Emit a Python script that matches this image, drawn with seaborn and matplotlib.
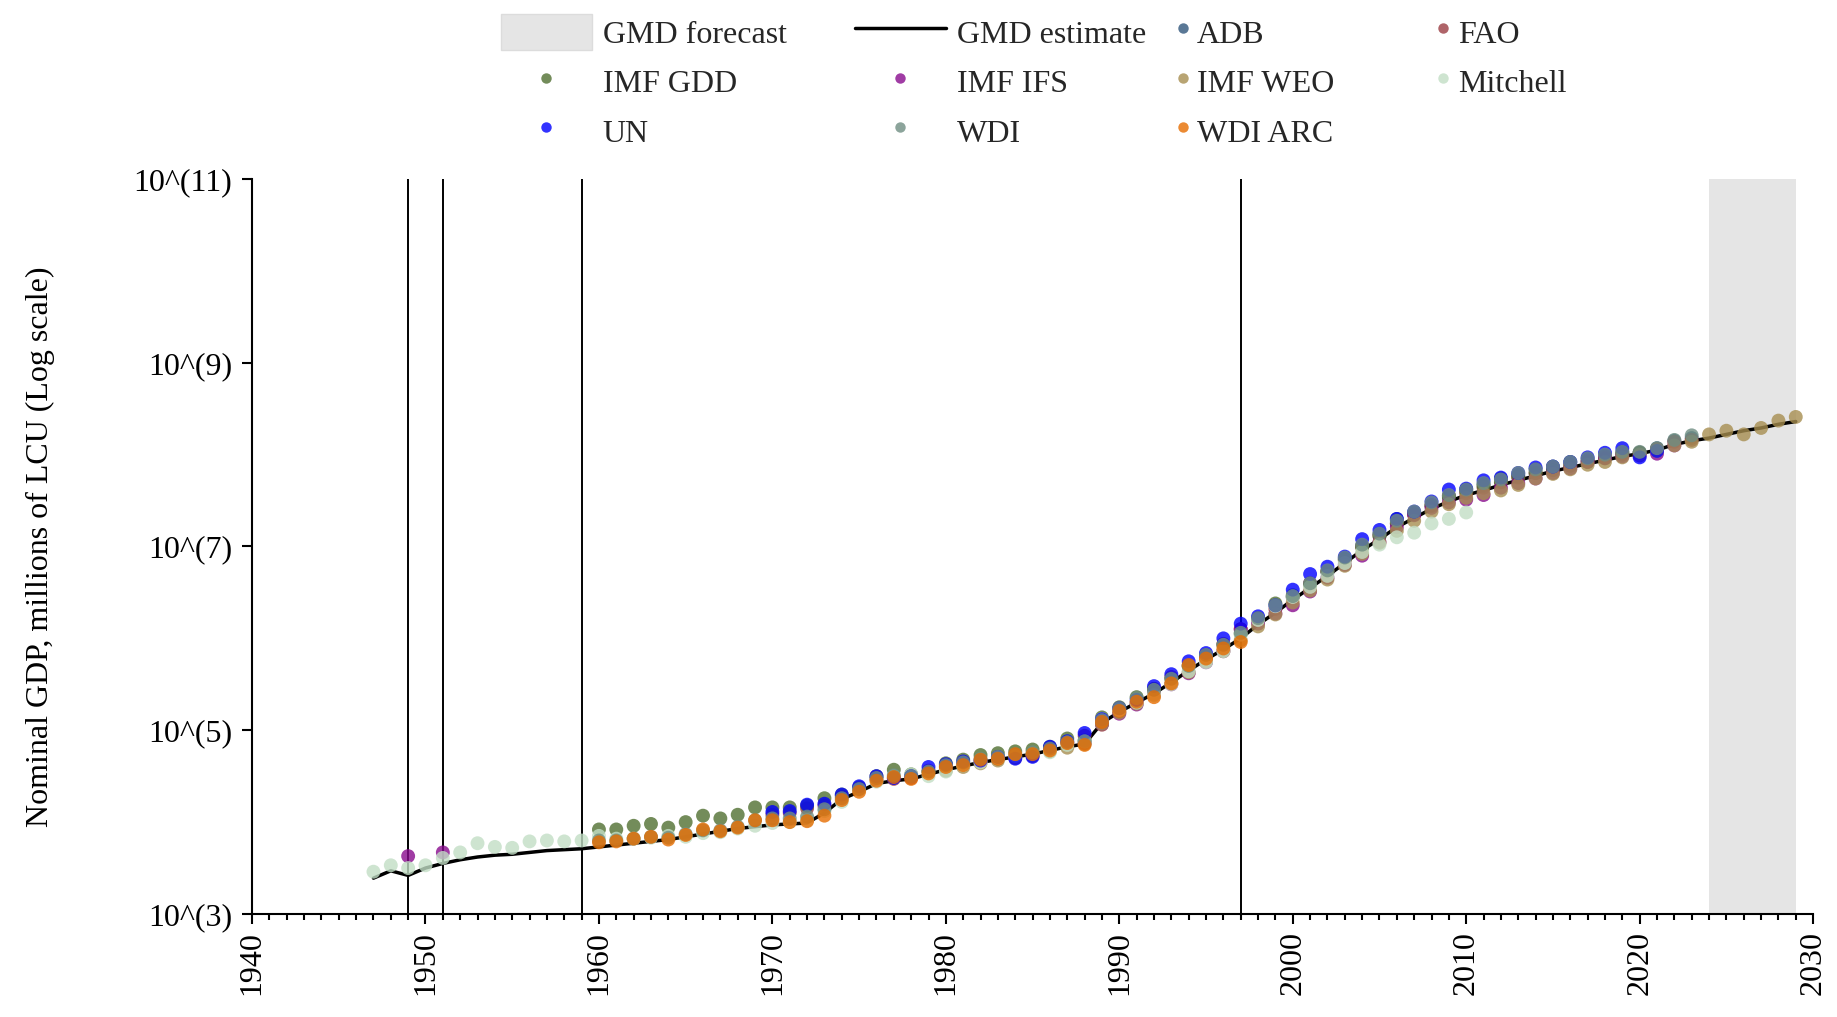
import numpy as np
import pandas as pd
import matplotlib
matplotlib.use("Agg")
import matplotlib.pyplot as plt
import seaborn as sns
from matplotlib.patches import Patch
from matplotlib.lines import Line2D
from matplotlib.ticker import FixedLocator, MultipleLocator, NullLocator

sns.set_style("ticks")
plt.rcParams['font.family'] = ['Liberation Serif', 'DejaVu Serif']

# ---------------- data (log10 of nominal GDP, millions of LCU) ----------------
gmd_years = list(range(1947, 2030))
gmd_log = [3.39, 3.47, 3.42, 3.50, 3.55, 3.59, 3.62, 3.64, 3.65, 3.67, 3.69, 3.70, 3.71,
           3.73, 3.75, 3.77, 3.79, 3.81, 3.84, 3.87, 3.90, 3.93, 3.95,
           3.97, 3.98, 3.99, 4.10, 4.25, 4.33, 4.42, 4.45, 4.47, 4.52,
           4.57, 4.61, 4.65, 4.68, 4.71, 4.74, 4.78, 4.82, 4.85, 5.08,
           5.20, 5.30, 5.40, 5.52, 5.65, 5.77, 5.88, 6.00, 6.15, 6.28,
           6.42, 6.55, 6.68, 6.82, 6.96, 7.08, 7.21, 7.31, 7.41, 7.49,
           7.56, 7.61, 7.67, 7.72, 7.77, 7.82, 7.86, 7.90, 7.94, 7.98,
           8.01, 8.05, 8.11, 8.15, 8.18, 8.22, 8.26, 8.29, 8.33, 8.36]

adb_years = list(range(2000, 2024))
adb_log = [6.45, 6.60, 6.72, 6.87, 7.01, 7.14, 7.30, 7.37, 7.45, 7.55,
           7.62, 7.68, 7.74, 7.78, 7.84, 7.87, 7.92, 7.95, 7.99, 8.03,
           8.02, 8.07, 8.15, 8.18]

fao_years = list(range(1970, 2024))
fao_log = [4.08, 4.10, 4.15, 4.18, 4.28, 4.36, 4.47, 4.47, 4.48, 4.56,
           4.60, 4.63, 4.66, 4.69, 4.70, 4.72, 4.80, 4.86, 4.94, 5.06,
           5.20, 5.30, 5.45, 5.58, 5.70, 5.80, 5.94, 6.10, 6.20, 6.32,
           6.45, 6.60, 6.73, 6.85, 7.00, 7.12, 7.25, 7.35, 7.45, 7.55,
           7.58, 7.64, 7.70, 7.75, 7.80, 7.85, 7.88, 7.93, 7.97, 8.01,
           8.02, 8.06, 8.14, 8.16]

gdd_years = list(range(1960, 2021))
gdd_log = [3.92, 3.92, 3.96, 3.98, 3.94, 4.00, 4.07, 4.04, 4.08, 4.16,
           4.16, 4.16, 4.18, 4.26, 4.30, 4.38, 4.50, 4.57, 4.52, 4.55,
           4.64, 4.68, 4.73, 4.75, 4.77, 4.79, 4.82, 4.91, 4.89, 5.14,
           5.25, 5.36, 5.45, 5.56, 5.70, 5.82, 5.93, 6.05, 6.22, 6.38,
           6.47, 6.58, 6.73, 6.86, 6.99, 7.11, 7.25, 7.35, 7.44, 7.53,
           7.60, 7.66, 7.70, 7.76, 7.80, 7.83, 7.88, 7.92, 7.96, 8.00, 8.02]

ifs_years = [1949, 1951] + list(range(1988, 2023))
ifs_log = [3.63, 3.67,
           4.86, 5.07, 5.18, 5.28, 5.39, 5.50, 5.62, 5.74, 5.86,
           6.10, 6.16, 6.27, 6.36, 6.51, 6.66, 6.80, 6.90, 7.05, 7.21,
           7.34, 7.42, 7.48, 7.51, 7.56, 7.64, 7.69, 7.74, 7.80, 7.85,
           7.92, 7.96, 7.98, 7.99, 8.01, 8.10]

weo_years = list(range(1980, 2030))
weo_log = [4.56, 4.60, 4.64, 4.67, 4.70, 4.73, 4.77, 4.81, 4.85, 5.07,
           5.19, 5.29, 5.39, 5.51, 5.63, 5.75, 5.86, 5.98, 6.13, 6.26,
           6.39, 6.52, 6.64, 6.79, 6.92, 7.04, 7.17, 7.28, 7.38, 7.46,
           7.53, 7.58, 7.61, 7.67, 7.74, 7.79, 7.84, 7.89, 7.92, 7.97,
           8.00, 8.04, 8.10, 8.14, 8.22, 8.26, 8.22, 8.29, 8.37, 8.41]

mitchell_years = list(range(1947, 2011))
mitchell_log = [3.46, 3.53, 3.50, 3.53, 3.61, 3.67, 3.77, 3.73, 3.72, 3.79, 3.80, 3.79, 3.80,
                3.85, 3.82, 3.82, 3.83, 3.85, 3.84, 3.88, 3.89, 3.93, 3.96,
                3.99, 4.00, 4.02, 4.12, 4.22, 4.35, 4.44, 4.50, 4.52, 4.50,
                4.55, 4.62, 4.65, 4.70, 4.72, 4.74, 4.76, 4.84, 4.88, 5.12,
                5.22, 5.30, 5.38, 5.50, 5.64, 5.74, 5.86, 6.04, 6.20, 6.35,
                6.45, 6.56, 6.68, 6.82, 6.94, 7.02, 7.10, 7.15, 7.25, 7.30, 7.37]

un_years = list(range(1970, 2022))
un_log = [4.11, 4.12, 4.19, 4.20, 4.30, 4.39, 4.50, 4.48, 4.50, 4.60,
          4.63, 4.66, 4.67, 4.71, 4.69, 4.71, 4.82, 4.88, 4.97, 5.12,
          5.24, 5.33, 5.48, 5.61, 5.75, 5.84, 6.00, 6.16, 6.24, 6.36,
          6.53, 6.70, 6.78, 6.89, 7.08, 7.18, 7.30, 7.38, 7.49, 7.62,
          7.63, 7.72, 7.75, 7.80, 7.86, 7.87, 7.92, 7.97, 8.02, 8.07, 7.97, 8.04]

wdi_years = list(range(1960, 2024))
wdi_log = [3.80, 3.80, 3.82, 3.84, 3.83, 3.87, 3.91, 3.91, 3.95, 4.02,
           4.04, 4.04, 4.06, 4.14, 4.26, 4.36, 4.48, 4.51, 4.50, 4.55,
           4.62, 4.65, 4.69, 4.71, 4.74, 4.76, 4.80, 4.87, 4.88, 5.11,
           5.24, 5.35, 5.44, 5.56, 5.70, 5.82, 5.93, 6.06, 6.22, 6.36,
           6.46, 6.60, 6.74, 6.88, 7.02, 7.14, 7.28, 7.38, 7.48, 7.56,
           7.62, 7.69, 7.73, 7.80, 7.84, 7.87, 7.92, 7.96, 8.00, 8.03,
           8.03, 8.07, 8.16, 8.21]

wdiarc_years = list(range(1960, 1998))
wdiarc_log = [3.78, 3.79, 3.82, 3.84, 3.81, 3.86, 3.92, 3.90, 3.94, 4.02,
              4.02, 4.00, 4.01, 4.07, 4.24, 4.33, 4.45, 4.49, 4.47, 4.53,
              4.60, 4.62, 4.68, 4.69, 4.74, 4.74, 4.78, 4.86, 4.84, 5.09,
              5.21, 5.31, 5.36, 5.51, 5.71, 5.78, 5.89, 5.96]

source_names = ["ADB", "FAO", "IMF GDD", "IMF IFS", "IMF WEO", "Mitchell", "UN", "WDI", "WDI ARC"]
source_colors = ["#31567c", "#9b3d43", "#506f31", "#880b8e", "#a78e50", "#c2dec5",
                 "#0000ff", "#6f8e82", "#e66d00"]
source_data = [(adb_years, adb_log), (fao_years, fao_log), (gdd_years, gdd_log),
               (ifs_years, ifs_log), (weo_years, weo_log), (mitchell_years, mitchell_log),
               (un_years, un_log), (wdi_years, wdi_log), (wdiarc_years, wdiarc_log)]

break_years = [1949, 1951, 1959, 1997]
forecast_start, forecast_end = 2024, 2029

y_tick_exps = [3, 5, 7, 9, 11]
y_tick_labels = ["10^(3)", "10^(5)", "10^(7)", "10^(9)", "10^(11)"]
x_ticks = list(range(1940, 2031, 10))

# ---------------- build frames ----------------
frames = []
for name, (yrs, vals) in zip(source_names, source_data):
    frames.append(pd.DataFrame({"year": yrs, "value": np.power(10.0, vals), "source": name}))
df = pd.concat(frames, ignore_index=True)
gmd_df = pd.DataFrame({"year": gmd_years, "value": np.power(10.0, gmd_log)})
palette = dict(zip(source_names, source_colors))

# ---------------- figure ----------------
fig = plt.figure(figsize=(18.37, 10.17), dpi=100)
ax = fig.add_axes([0.1372, 0.1013, 0.8498, 0.7227])

FS = 23
ax.axvspan(forecast_start, forecast_end, color="#e5e5e5", zorder=0, lw=0)
for by in break_years:
    ax.axvline(by, color="black", lw=1.4, zorder=1)

sns.lineplot(data=gmd_df, x="year", y="value", color="black", lw=2.5, ax=ax, zorder=2)
sns.scatterplot(data=df, x="year", y="value", hue="source", palette=palette,
                hue_order=source_names, s=100, alpha=0.8, linewidth=0, ax=ax,
                legend=False, zorder=3)

ax.set_yscale("log")
ax.set_ylim(1e3, 1e11)
ax.set_xlim(1940, 2030)
ax.yaxis.set_major_locator(FixedLocator([10.0 ** e for e in y_tick_exps]))
ax.yaxis.set_minor_locator(NullLocator())
ax.set_yticklabels(y_tick_labels)
ax.xaxis.set_major_locator(FixedLocator(x_ticks))
ax.xaxis.set_minor_locator(MultipleLocator(1))
ax.set_xticklabels([str(t) for t in x_ticks], rotation=90)

ax.tick_params(axis="both", which="major", labelsize=FS, width=1.5, length=7.5,
               direction="out", color="black", labelcolor="black")
ax.tick_params(axis="x", which="major", pad=5)
ax.tick_params(axis="y", which="major", pad=7)
ax.tick_params(axis="x", which="minor", width=1.5, length=4, direction="out", color="black")

for sp in ["top", "right"]:
    ax.spines[sp].set_visible(False)
for sp in ["left", "bottom"]:
    ax.spines[sp].set_linewidth(1.5)
    ax.spines[sp].set_color("black")

ax.set_xlabel("")
ax.set_ylabel("Nominal GDP, millions of LCU (Log scale)", fontsize=FS, color="black")
ax.yaxis.set_label_coords(-0.126, 0.5)

# ---------------- legend (4 column legends) ----------------
def mk(c):
    return Line2D([], [], marker="o", ls="", color=c, alpha=0.8, markersize=7.5,
                  markeredgewidth=0)

col_handles = [
    ([Patch(facecolor="#e5e5e5", edgecolor="#dcdcdc"), mk(palette["IMF GDD"]), mk(palette["UN"])],
     ["GMD forecast", "IMF GDD", "UN"], 0.2727, 2.85, 0.33),
    ([Line2D([], [], color="black", lw=2.5), mk(palette["IMF IFS"]), mk(palette["WDI"])],
     ["GMD estimate", "IMF IFS", "WDI"], 0.4654, 2.85, 0.33),
    ([mk(palette["ADB"]), mk(palette["IMF WEO"]), mk(palette["WDI ARC"])],
     ["ADB", "IMF WEO", "WDI ARC"], 0.6396, 0.5, 0.18),
    ([mk(palette["FAO"]), mk(palette["Mitchell"])],
     ["FAO", "Mitchell"], 0.7812, 0.5, 0.22),
]
for hs, ls, x0, hl, tp in col_handles:
    fig.legend(hs, ls, loc="upper left", bbox_to_anchor=(x0, 0.9867),
               bbox_transform=fig.transFigure, frameon=False, fontsize=FS,
               handlelength=hl, handletextpad=tp, handleheight=1.4,
               labelspacing=0.40, borderpad=0, borderaxespad=0, numpoints=1)

fig.savefig("out.png", dpi=100)
